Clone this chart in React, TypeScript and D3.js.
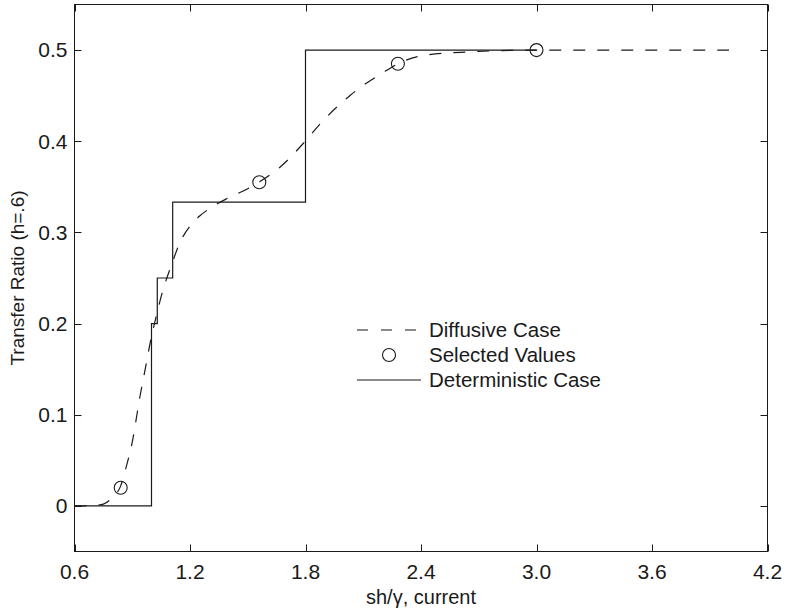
import React, { useEffect, useRef } from "react";
import * as d3 from "d3";

// diffusive case (dashed curve)
const diffX = [0.6, 0.65, 0.7, 0.75, 0.8, 0.84, 0.865, 0.9, 0.94, 0.97, 1.0, 1.02, 1.06, 1.1, 1.15, 1.2, 1.25, 1.3, 1.4, 1.5, 1.565, 1.67, 1.79, 1.88, 2.03, 2.2, 2.29, 2.41, 2.65, 3.0, 3.5, 4.0];
const diffY = [0, 0, 0.0005, 0.002, 0.01, 0.022, 0.04, 0.07, 0.12, 0.153, 0.186, 0.204, 0.237, 0.262, 0.29, 0.307, 0.318, 0.326, 0.338, 0.348, 0.356, 0.372, 0.398, 0.42, 0.45, 0.475, 0.486, 0.494, 0.498, 0.5, 0.5, 0.5];

// selected values (circles)
const selX = [0.84, 1.56, 2.28, 3.0];
const selY = [0.02, 0.355, 0.485, 0.5];

// deterministic case, step after each breakpoint
const detX = [0.6, 1.0, 1.03, 1.11, 1.8, 3.0];
const detY = [0, 0.2, 0.25, 1 / 3, 0.5, 0.5];

const xTicks = [0.6, 1.2, 1.8, 2.4, 3.0, 3.6, 4.2];
const yTicks = [0, 0.1, 0.2, 0.3, 0.4, 0.5];

const legendLabels = ["Diffusive Case", "Selected Values", "Deterministic Case"];

export default function App() {
  const svgRef = useRef<SVGSVGElement>(null);

  useEffect(() => {
    const svg = d3.select(svgRef.current);
    svg.selectAll("*").remove();

    const width = 786;
    const height = 611;
    const left = 74.5, right = 767.5, top = 4.5, bottom = 551.5;
    const font = "'Liberation Sans', Arial, Helvetica, sans-serif";
    const ink = "#1a1a1a";

    const x = d3.scaleLinear().domain([0.6, 4.2]).range([left, right]);
    const y = d3.scaleLinear().domain([-0.05, 0.55]).range([bottom, top]);

    svg.attr("width", width).attr("height", height);

    // frame
    svg.append("rect")
      .attr("x", left).attr("y", top)
      .attr("width", right - left).attr("height", bottom - top)
      .attr("fill", "none").attr("stroke", ink).attr("stroke-width", 1);

    const tickLen = 7;
    const fmt = (d: number) => (d === 0 ? "0" : d.toFixed(1));

    // x ticks (bottom and top, inward)
    const gx = svg.append("g");
    xTicks.forEach((t) => {
      const px = Math.round(x(t)) + 0.5;
      gx.append("line").attr("x1", px).attr("x2", px).attr("y1", bottom).attr("y2", bottom - tickLen).attr("stroke", ink);
      gx.append("line").attr("x1", px).attr("x2", px).attr("y1", top).attr("y2", top + tickLen).attr("stroke", ink);
      gx.append("text")
        .attr("x", x(t)).attr("y", bottom + 27)
        .attr("text-anchor", "middle")
        .attr("font-family", font).attr("font-size", 21).attr("fill", ink)
        .text(fmt(t));
    });

    // y ticks (left and right, inward)
    const gy = svg.append("g");
    yTicks.forEach((t) => {
      const py = Math.round(y(t)) + 0.5;
      gy.append("line").attr("x1", left).attr("x2", left + tickLen).attr("y1", py).attr("y2", py).attr("stroke", ink);
      gy.append("line").attr("x1", right).attr("x2", right - tickLen).attr("y1", py).attr("y2", py).attr("stroke", ink);
      gy.append("text")
        .attr("x", left - 7).attr("y", y(t))
        .attr("dy", "0.35em")
        .attr("text-anchor", "end")
        .attr("font-family", font).attr("font-size", 21).attr("fill", ink)
        .text(fmt(t));
    });

    // axis titles
    svg.append("text")
      .attr("x", (left + right) / 2).attr("y", 604)
      .attr("text-anchor", "middle")
      .attr("font-family", font).attr("font-size", 20).attr("fill", ink)
      .text("sh/\u03b3, current");

    svg.append("text")
      .attr("transform", `translate(24,${(top + bottom) / 2}) rotate(-90)`)
      .attr("text-anchor", "middle")
      .attr("font-family", font).attr("font-size", 19).attr("fill", ink)
      .text("Transfer Ratio (h=.6)");

    // deterministic step line
    const detLine = d3.line<number>()
      .x((_, i) => x(detX[i]))
      .y((d) => y(d))
      .curve(d3.curveStepAfter);
    svg.append("path")
      .datum(detY)
      .attr("d", detLine)
      .attr("fill", "none").attr("stroke", ink).attr("stroke-width", 1.2);

    // diffusive dashed curve
    const diffLine = d3.line<number>()
      .x((_, i) => x(diffX[i]))
      .y((d) => y(d))
      .curve(d3.curveMonotoneX);
    svg.append("path")
      .datum(diffY)
      .attr("d", diffLine)
      .attr("fill", "none").attr("stroke", ink).attr("stroke-width", 1.2)
      .attr("stroke-dasharray", "12,12");

    // selected values
    svg.append("g")
      .selectAll("circle")
      .data(selY)
      .join("circle")
      .attr("cx", (_, i) => x(selX[i]))
      .attr("cy", (d) => y(d))
      .attr("r", 6.5)
      .attr("fill", "none").attr("stroke", ink).attr("stroke-width", 1.1);

    // legend
    const lg = svg.append("g");
    const lx0 = 357, lx1 = 421, tx = 429;
    const rows = [330, 355, 380];
    lg.append("line").attr("x1", lx0).attr("x2", lx1).attr("y1", rows[0]).attr("y2", rows[0])
      .attr("stroke", ink).attr("stroke-width", 1.2).attr("stroke-dasharray", "11,13");
    lg.append("circle").attr("cx", (lx0 + lx1) / 2).attr("cy", rows[1]).attr("r", 6.5)
      .attr("fill", "none").attr("stroke", ink).attr("stroke-width", 1.1);
    lg.append("line").attr("x1", lx0).attr("x2", lx1).attr("y1", rows[2]).attr("y2", rows[2])
      .attr("stroke", ink).attr("stroke-width", 1.2);
    legendLabels.forEach((label, i) => {
      lg.append("text")
        .attr("x", tx).attr("y", rows[i]).attr("dy", "0.35em")
        .attr("font-family", font).attr("font-size", 20.5).attr("fill", ink)
        .text(label);
    });
  }, []);

  return (
    <svg
      ref={svgRef}
      style={{ position: "absolute", left: 0, top: 0, background: "#fff" }}
    />
  );
}
